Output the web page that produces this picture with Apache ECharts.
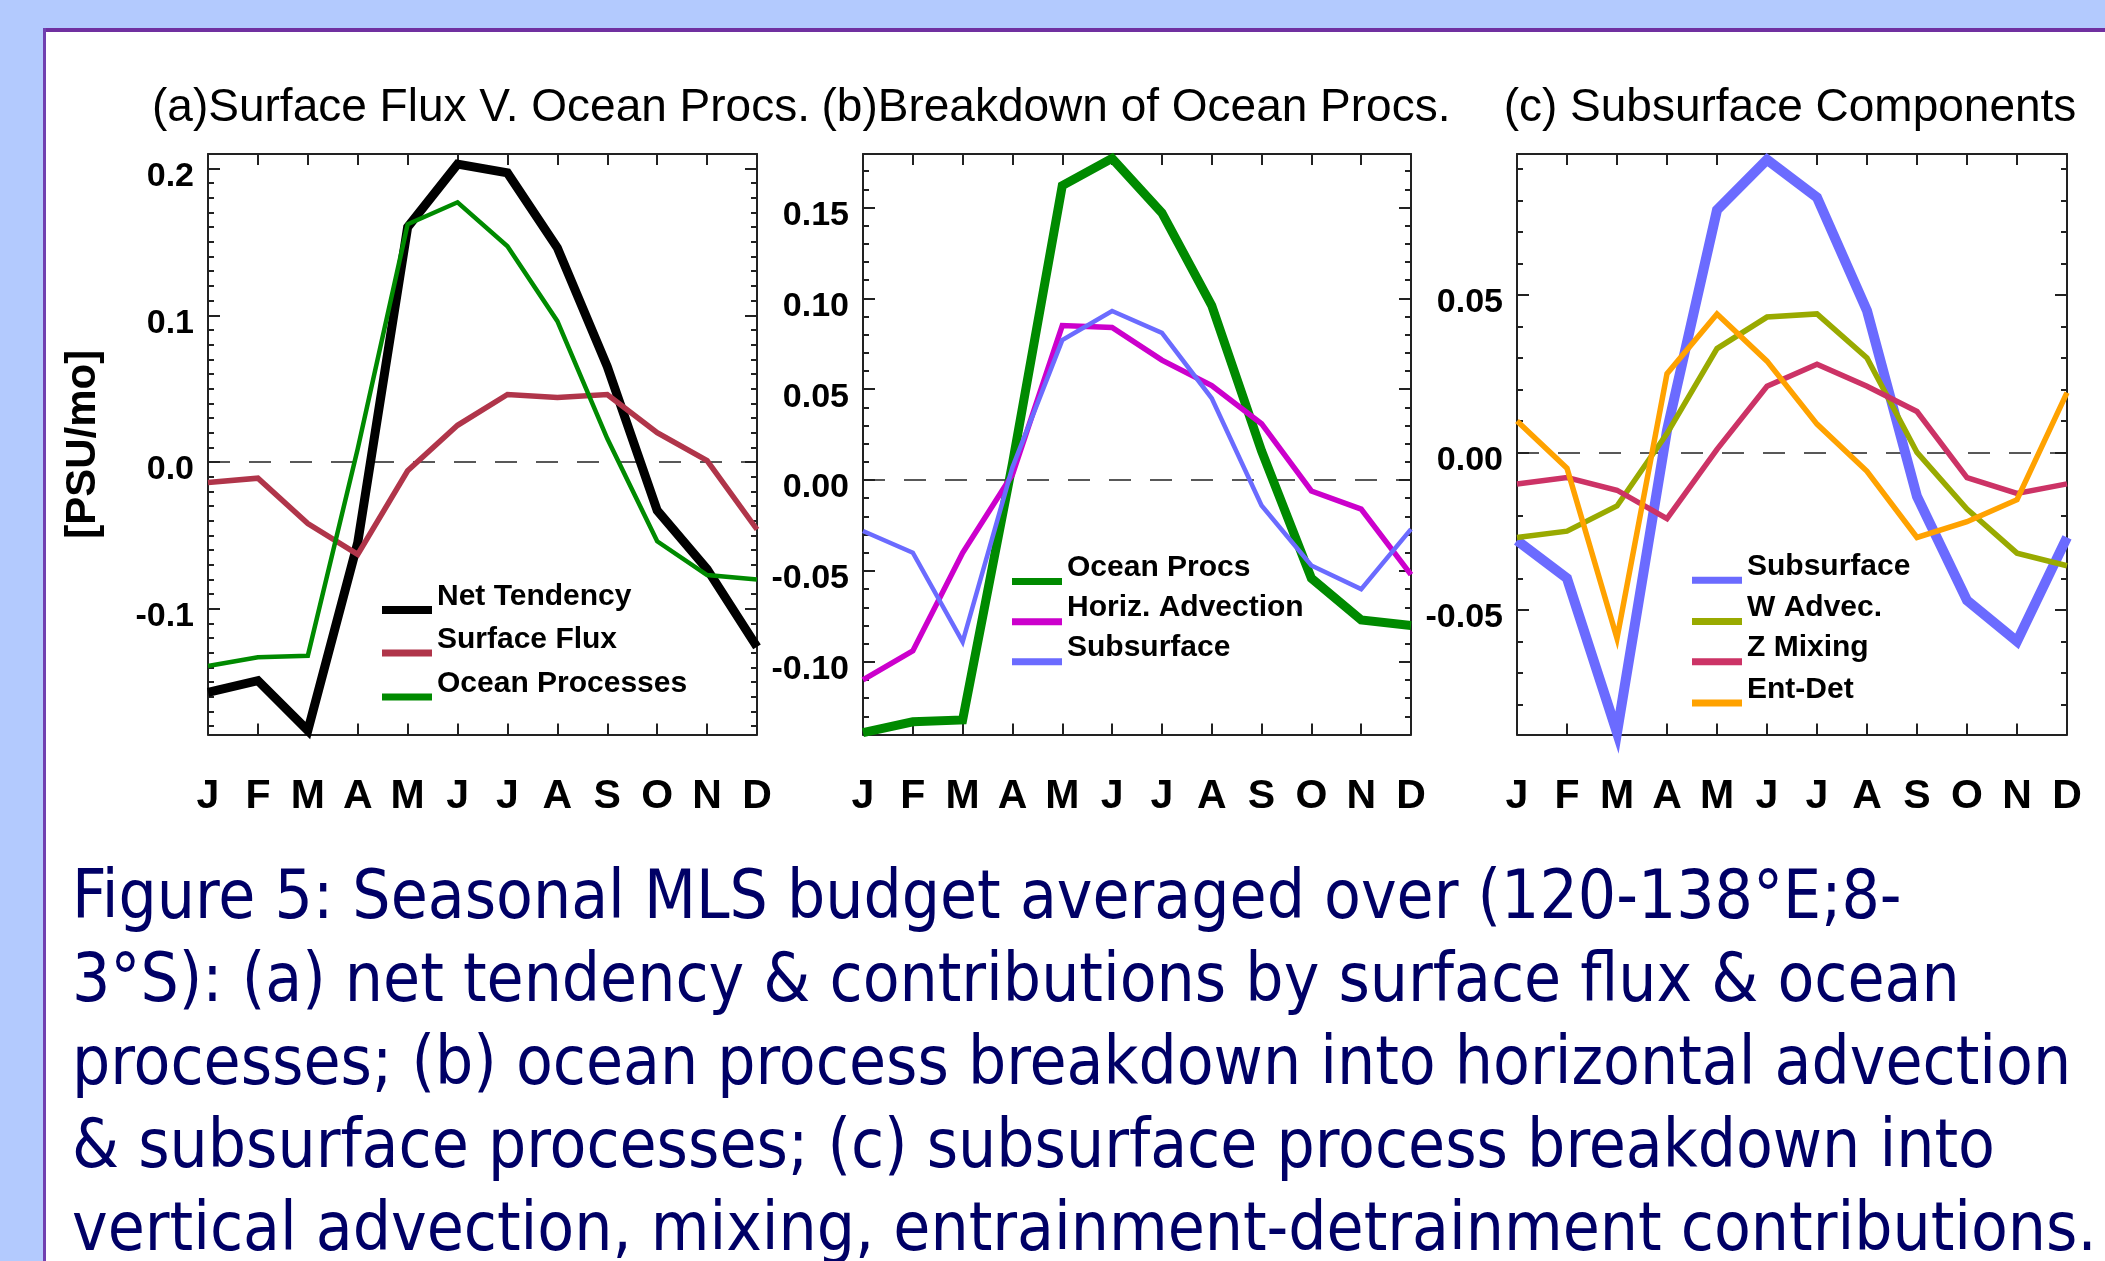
<!DOCTYPE html>
<html><head><meta charset="utf-8">
<script src="https://cdn.jsdelivr.net/npm/echarts@6/dist/echarts.min.js"></script>
<style>html,body{margin:0;padding:0;background:#B3CAFE;overflow:hidden}#c{width:2105px;height:1261px}</style>
</head><body><div id="c"></div>
<script>
// ---------------- DATA ----------------
const months = ['J','F','M','A','M','J','J','A','S','O','N','D'];
const panelTitles = ['(a)Surface Flux V. Ocean Procs.', '(b)Breakdown of Ocean Procs.', '(c) Subsurface Components'];
const yAxisName = '[PSU/mo]';

// (a)
const netTendency    = [-0.157, -0.149, -0.183, -0.055, 0.160, 0.203, 0.197, 0.146, 0.065, -0.033, -0.073, -0.126];
const surfaceFlux    = [-0.014, -0.011, -0.042, -0.063, -0.006, 0.025, 0.046, 0.044, 0.046, 0.020, 0.001, -0.046];
const oceanProcesses = [-0.139, -0.133, -0.132, 0.009, 0.162, 0.177, 0.147, 0.096, 0.016, -0.054, -0.077, -0.080];
// (b)
const horizAdvection = [-0.110, -0.094, -0.040, 0.003, 0.085, 0.084, 0.066, 0.052, 0.031, -0.006, -0.016, -0.052];
const subsurface     = [-0.028, -0.040, -0.089, 0.007, 0.077, 0.093, 0.081, 0.045, -0.014, -0.047, -0.060, -0.027];
// (c)
const wAdvec  = [-0.027, -0.025, -0.017, 0.006, 0.033, 0.043, 0.044, 0.030, 0.000, -0.018, -0.032, -0.036];
const zMixing = [-0.010, -0.008, -0.012, -0.021, 0.001, 0.021, 0.028, 0.021, 0.013, -0.008, -0.013, -0.010];
const entDet  = [0.010, -0.005, -0.059, 0.025, 0.044, 0.029, 0.009, -0.006, -0.027, -0.022, -0.015, 0.019];

// axis ranges and tick labels
const yRangeA = [-0.1857, 0.2099];
const yRangeB = [-0.1400, 0.1794];
const yRangeC = [-0.0896, 0.0948];
const yTicksA = [-0.1, 0.0, 0.1, 0.2];
const yTicksB = [-0.10, -0.05, 0.00, 0.05, 0.10, 0.15];
const yTicksC = [-0.05, 0.00, 0.05];
const minorStep = 0.01;

const captionLines = [
  'Figure 5: Seasonal MLS budget averaged over (120-138\u00B0E;8-',
  '3\u00B0S): (a) net tendency & contributions by surface flux & ocean',
  'processes; (b) ocean process breakdown into horizontal advection',
  '& subsurface processes; (c) subsurface process breakdown into',
  'vertical advection, mixing, entrainment-detrainment contributions.'
];

// ---------------- STYLE / LAYOUT ----------------
const FONT = '"Liberation Sans", Arial, sans-serif';
const CAPFONT = '"DejaVu Sans Condensed", "DejaVu Sans", sans-serif';
const AX = '#222';
const C = {black:'#000000', sf:'#B0354A', green:'#008A00', mag:'#CC00CC', blue:'#6B6BFF', olive:'#99AA00', crimson:'#CC3366', orange:'#FFA200'};

const panels = [
  { left:208, width:549, range:yRangeA, ticks:yTicksA, dec:1, cx:481,
    series:[['Net Tendency', netTendency, C.black, 9], ['Surface Flux', surfaceFlux, C.sf, 5.5], ['Ocean Processes', oceanProcesses, C.green, 4.5]],
    legendLeft:382, legendY:[610, 653, 697], legendT:[8,7,7] },
  { left:863, width:548, range:yRangeB, ticks:yTicksB, dec:2, cx:1136,
    series:[['Ocean Procs', oceanProcesses, C.green, 9], ['Horiz. Advection', horizAdvection, C.mag, 5.5], ['Subsurface', subsurface, C.blue, 4.5]],
    legendLeft:1012, legendY:[581.5, 621.7, 661.7], legendT:[7,7,7] },
  { left:1517, width:550, range:yRangeC, ticks:yTicksC, dec:2, cx:1790,
    series:[['Subsurface', subsurface, C.blue, 10], ['W Advec.', wAdvec, C.olive, 5.5], ['Z Mixing', zMixing, C.crimson, 5.5], ['Ent-Det', entDet, C.orange, 5.5]],
    legendLeft:1692, legendY:[580.2, 621.5, 661.7, 703], legendT:[7,7,7,7] }
];
const GRID_TOP = 154, GRID_H = 580.5;

function minorTicks(r) {
  const out = [];
  for (let k = Math.ceil(r[0] / minorStep - 1e-9); k * minorStep <= r[1] + 1e-9; k++) out.push(+(k * minorStep).toFixed(4));
  return out;
}
const icon = t => `path://M0,0L0.01,0L0.01,0.01L0,0.01Z M0,${34 - t}L50,${34 - t}L50,34L0,34Z`;

const grid = [], xAxis = [], yAxis = [], series = [], legend = [], title = [];
panels.forEach((p, g) => {
  grid.push({ left:p.left, top:GRID_TOP, width:p.width, height:GRID_H, containLabel:false, outerBoundsMode:'none' });
  const lineSt = { color:AX, width:2 };
  xAxis.push({ gridIndex:g, type:'category', data:months, boundaryGap:false, position:'bottom',
    axisLine:{ show:true, onZero:false, lineStyle:lineSt },
    axisTick:{ show:true, inside:true, length:11, interval:0, lineStyle:lineSt },
    axisLabel:{ interval:0, margin:39, fontFamily:FONT, fontWeight:'bold', fontSize:41, lineHeight:46, color:'#000' },
    splitLine:{ show:false } });
  xAxis.push({ gridIndex:g, type:'category', data:months, boundaryGap:false, position:'top',
    axisLine:{ show:true, onZero:false, lineStyle:lineSt },
    axisTick:{ show:true, inside:true, length:11, interval:0, lineStyle:lineSt },
    axisLabel:{ show:false }, splitLine:{ show:false } });
  const minors = minorTicks(p.range);
  const base = { gridIndex:g, type:'value', min:p.range[0], max:p.range[1], splitLine:{ show:false } };
  yAxis.push(Object.assign({}, base, { position:'left',
    axisLine:{ show:true, onZero:false, lineStyle:lineSt },
    axisTick:{ show:true, inside:true, length:12, customValues:p.ticks, lineStyle:lineSt },
    axisLabel:{ show:true, customValues:p.ticks, margin:14, formatter:v => v.toFixed(p.dec),
      fontFamily:FONT, fontWeight:'bold', fontSize:34, lineHeight:16, verticalAlign:'top', color:'#000' },
    name: g === 0 ? yAxisName : '', nameLocation:'middle', nameGap:104, nameRotate:90,
    nameTextStyle:{ fontFamily:FONT, fontWeight:'bold', fontSize:42, color:'#000' } }));
  yAxis.push(Object.assign({}, base, { position:'left', axisLine:{ show:false },
    axisTick:{ show:true, inside:true, length:6, customValues:minors, lineStyle:lineSt }, axisLabel:{ show:false } }));
  yAxis.push(Object.assign({}, base, { position:'right', axisLine:{ show:true, onZero:false, lineStyle:lineSt },
    axisTick:{ show:true, inside:true, length:12, customValues:p.ticks, lineStyle:lineSt }, axisLabel:{ show:false } }));
  yAxis.push(Object.assign({}, base, { position:'right', axisLine:{ show:false },
    axisTick:{ show:true, inside:true, length:6, customValues:minors, lineStyle:lineSt }, axisLabel:{ show:false } }));

  p.series.forEach((s, i) => {
    const ser = { type:'line', name:s[0], data:s[1], xAxisIndex:2 * g, yAxisIndex:4 * g,
      symbol:'none', clip:false, silent:true, animation:false,
      lineStyle:{ color:s[2], width:s[3], join:'miter', cap:'butt' }, itemStyle:{ color:s[2] } };
    if (i === 0) ser.markLine = { silent:true, symbol:'none', z:1, label:{ show:false },
      lineStyle:{ color:AX, width:1.5, type:[22, 19] }, data:[{ yAxis:0 }] };
    series.push(ser);
    const t = p.legendT[i];
    legend.push({ orient:'vertical', left:p.legendLeft, top:p.legendY[i] - (34 - t / 2), padding:0,
      itemWidth:50, itemHeight:34, itemGap:0, icon:icon(t), selectedMode:false,
      itemStyle:{ borderWidth:0 },
      data:[{ name:s[0], itemStyle:{ color:s[2], borderWidth:0 } }],
      textStyle:{ fontFamily:FONT, fontWeight:'bold', fontSize:30, lineHeight:34, color:'#000' } });
  });
  title.push({ text:panelTitles[g], left:p.cx, top:108, textAlign:'center', textVerticalAlign:'middle', padding:0,
    textStyle:{ fontFamily:FONT, fontWeight:'normal', fontSize:46, color:'#000' } });
});

const option = {
  animation:false,
  backgroundColor:'#B3CAFE',
  graphic:[
    { type:'rect', z:-10, shape:{ x:44, y:29, width:2061, height:1232 }, style:{ fill:'#ffffff' } },
    { type:'rect', z:-9, shape:{ x:44, y:28, width:2061, height:4 }, style:{ fill:'#7030A0' } },
    { type:'rect', z:-9, shape:{ x:43, y:28, width:3, height:1233 }, style:{ fill:'#7040B0' } },
    { type:'text', z:5, left:72, top:859, style:{ text:captionLines.join('\n'), fill:'#000066',
      fontFamily:CAPFONT, fontSize:67, lineHeight:83 } }
  ],
  title, legend, grid, xAxis, yAxis, series
};
const chart = echarts.init(document.getElementById('c'), null, { renderer:'canvas', width:2105, height:1261 });
chart.setOption(option);
</script></body></html>
